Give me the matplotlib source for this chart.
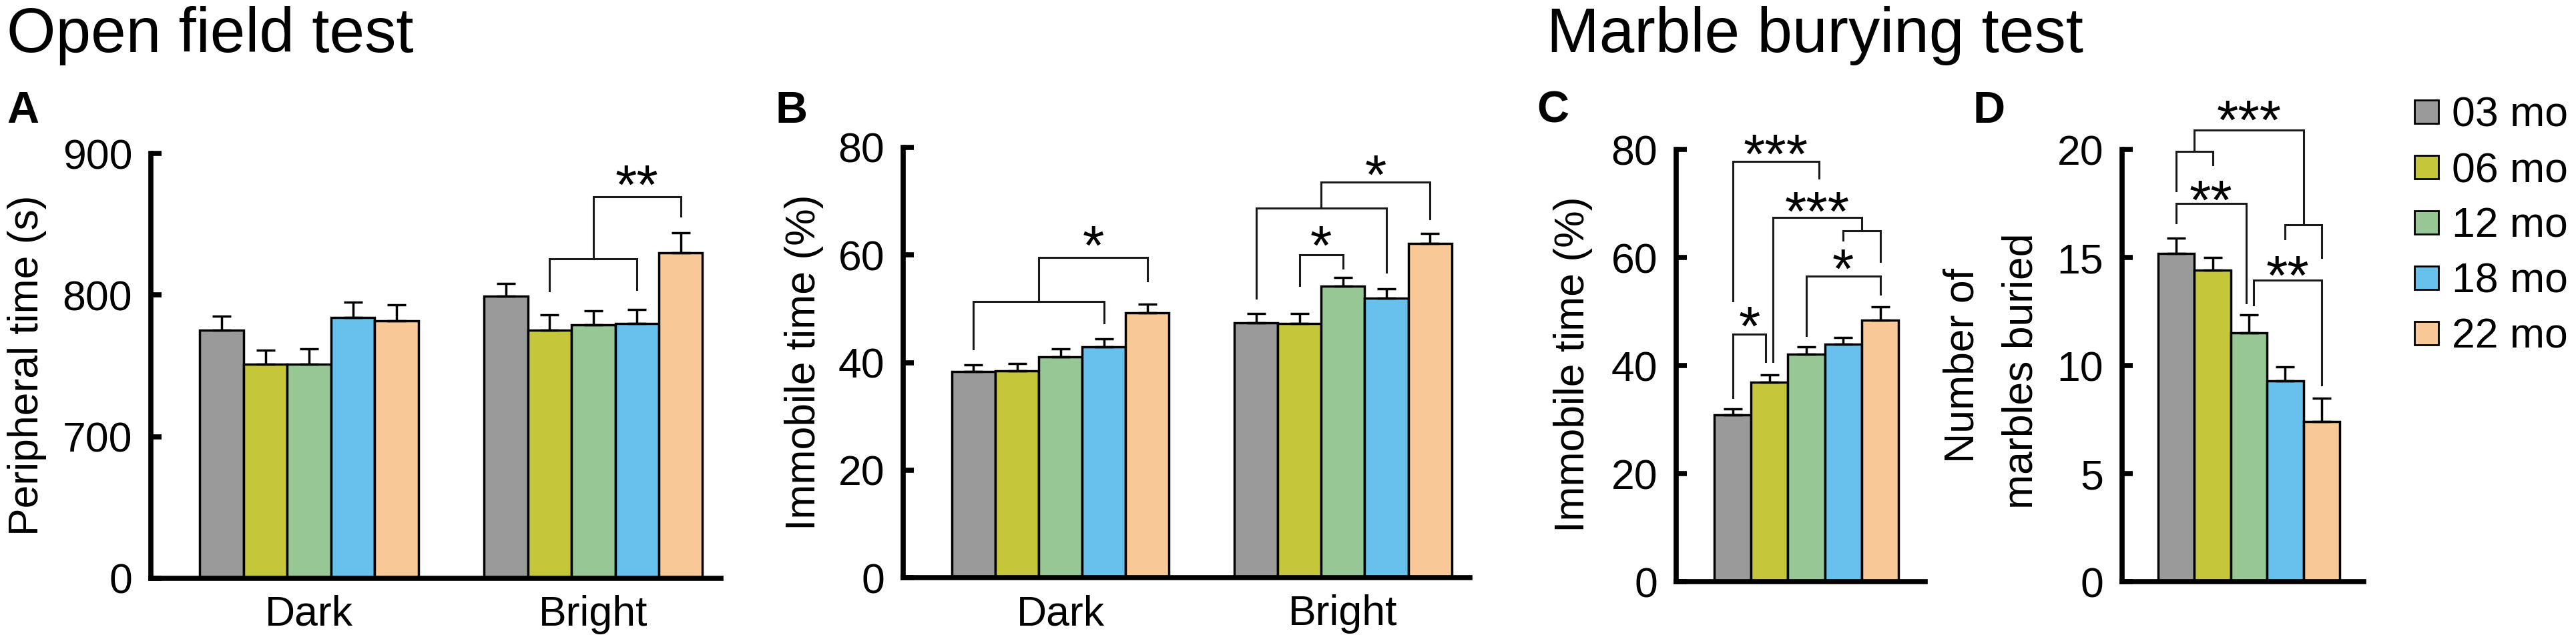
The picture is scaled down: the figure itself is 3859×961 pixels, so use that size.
import numpy as np
import matplotlib
matplotlib.use('Agg')
import matplotlib.pyplot as plt
from matplotlib.patches import Rectangle

plt.rcParams['font.family'] = ['Liberation Sans', 'DejaVu Sans']

# data (mean, SEM)
ages = ['03 mo', '06 mo', '12 mo', '18 mo', '22 mo']
colors = ['#9a9a9a', '#c6c63a', '#98c796', '#68c1ec', '#f8c997']
light_groups = ['Dark', 'Bright']

a_dark = [775, 751, 751, 784, 782]
a_dark_sem = [10, 10, 11, 11, 11]
a_bright = [799, 775, 779, 780, 830]
a_bright_sem = [9, 11, 10, 10, 14]

b_dark = [38.3, 38.5, 41.1, 42.9, 49.2]
b_dark_sem = [1.3, 1.3, 1.5, 1.5, 1.7]
b_bright = [47.4, 47.2, 54.2, 52.0, 62.1]
b_bright_sem = [1.7, 1.9, 1.6, 1.7, 1.9]

c_immobile = [30.9, 36.9, 42.1, 43.9, 48.4]
c_immobile_sem = [1.1, 1.4, 1.4, 1.3, 2.5]

d_marbles = [15.2, 14.4, 11.5, 9.3, 7.4]
d_marbles_sem = [0.7, 0.6, 0.85, 0.65, 1.1]

# significance brackets: (x_left, x_right, y_top, y_left_end, y_right_end)
a_brackets = [(7.5, 9.5, 825.8, 802.8, 804), (8.5, 10.5, 869.5, 825.8, 855.5)]
a_stars = [(9.5, 886, '**')]
b_brackets = [(0, 3, 51.3, 42.5, 47.4), (1.5, 4, 59.5, 51.3, 55.2),
              (6.5, 9.5, 68.75, 52, 56.8), (8.0, 10.5, 73.5, 68.75, 66.7),
              (7.5, 8.5, 60, 54.3, 57.5)]
b_stars = [(2.75, 63.9, '*'), (9.25, 77.1, '*'), (8.0, 63.9, '*')]
c_brackets = [(0, 0.9, 45.8, 34.1, 40.7), (0, 2.35, 77.8, 52, 74.7),
              (1.09, 3.5, 67.4, 40.7, 64.9), (3, 4, 64.9, 63.2, 59.3),
              (2, 4, 56.6, 45.6, 53.2)]
c_stars = [(0.45, 49.4, '*'), (1.17, 81.2, '***'), (2.3, 70.6, '***'), (3.0, 60.0, '*')]
d_brackets = [(0, 1, 19.9, 18.1, 19.3), (0.5, 3.5, 20.9, 19.9, 16.5),
              (3, 4, 16.5, 15.85, 15.0), (0, 1.92, 17.5, 16.6, 12.9),
              (2.13, 4, 13.95, 12.8, 9.1)]
d_stars = [(2.0, 21.9, '***'), (0.96, 18.2, '**'), (3.07, 14.7, '**')]

W, H = 3859, 961
FS = 45
STAR_FS = 60

fig = plt.figure(figsize=(W / 100, H / 100), dpi=100)


def px_axes(left, top, right, bottom):
    return fig.add_axes([left / W, 1 - bottom / H, (right - left) / W, (bottom - top) / H])


def style(ax):
    for s in ['top', 'right']:
        ax.spines[s].set_visible(False)
    for s in ['left', 'bottom']:
        ax.spines[s].set_linewidth(5.5)
    ax.tick_params(axis='y', direction='in', length=11.5, width=5.5, pad=20, labelsize=FS)
    ax.tick_params(axis='x', length=0, pad=18, labelsize=FS)


def bars(ax, xs, vals, sem):
    xs = np.asarray(xs, dtype=float)
    ax.bar(xs, vals, width=1.0, color=colors, edgecolor='black', linewidth=2.5, zorder=2)
    ax.errorbar(xs, vals, yerr=[np.zeros(len(sem)), sem], fmt='none', ecolor='black',
                elinewidth=2.5, capsize=10, capthick=2.5, zorder=3)


def brackets(ax, specs, stars):
    for x1, x2, y, e1, e2 in specs:
        ax.plot([x1, x1, x2, x2], [e1, y, y, e2], color='#1a1a1a', lw=2.2,
                clip_on=False, solid_joinstyle='miter', zorder=4)
    for x, y, s in stars:
        ax.annotate(s, xy=(x, y), xytext=(0, -0.55 * STAR_FS), textcoords='offset points',
                    ha='center', va='baseline', fontsize=STAR_FS, annotation_clip=False)


def px_text(x, y, s, **kw):
    fig.text(x / W, 1 - y / H, s, **kw)


grp = np.arange(5)
offset = 6.5

# A: open field, peripheral time (broken scale: 0 / 700 / 800 / 900)
ax = px_axes(226, 230, 1080, 867)
bars(ax, grp, a_dark, a_dark_sem)
bars(ax, grp + offset, a_bright, a_bright_sem)
ax.set_ylim(600, 900)
ax.set_yticks([600, 700, 800, 900], ['0', '700', '800', '900'])
ax.set_xlim(-1.62, 11.42)
ax.set_xticks([2, 2 + offset], light_groups)
style(ax)
brackets(ax, a_brackets, a_stars)

# B: open field, immobile time
ax = px_axes(1353, 221, 2202, 866)
bars(ax, grp, b_dark, b_dark_sem)
bars(ax, grp + offset, b_bright, b_bright_sem)
ax.set_ylim(0, 80)
ax.set_yticks([0, 20, 40, 60, 80])
ax.set_xlim(-1.62, 11.42)
ax.set_xticks([2, 2 + offset], light_groups)
style(ax)
brackets(ax, b_brackets, b_stars)

# C: marble burying, immobile time
ax = px_axes(2511, 224, 2884, 872)
bars(ax, grp, c_immobile, c_immobile_sem)
ax.set_ylim(0, 80)
ax.set_yticks([0, 20, 40, 60, 80])
ax.set_xlim(-1.53, 5.22)
ax.set_xticks([])
style(ax)
brackets(ax, c_brackets, c_stars)

# D: marbles buried
ax = px_axes(3179, 224, 3541, 872)
bars(ax, grp, d_marbles, d_marbles_sem)
ax.set_ylim(0, 20)
ax.set_yticks([0, 5, 10, 15, 20])
ax.set_xlim(-1.49, 5.16)
ax.set_xticks([])
style(ax)
brackets(ax, d_brackets, d_stars)

# titles, panel letters, axis labels
px_text(10, 78, 'Open field test', fontsize=68, va='baseline', ha='left')
px_text(2317, 78, 'Marble burying test', fontsize=68, va='baseline', ha='left')
for x, s in [(10, 'A'), (1161, 'B'), (2302, 'C'), (2955, 'D')]:
    px_text(x, 184, s, fontsize=48, fontweight='bold', va='baseline', ha='left')

px_text(40, 548, 'Peripheral time (s)', fontsize=FS, rotation=90, ha='center', va='center')
px_text(1205, 543, 'Immobile time (%)', fontsize=FS, rotation=90, ha='center', va='center')
px_text(2357, 546, 'Immobile time (%)', fontsize=FS, rotation=90, ha='center', va='center')
px_text(2940, 548, 'Number of', fontsize=FS, rotation=90, ha='center', va='center')
px_text(3028, 556, 'marbles buried', fontsize=FS, rotation=90, ha='center', va='center')

# legend
for i, (lab, c) in enumerate(zip(ages, colors)):
    yc = 167.5 + 83 * i
    fig.add_artist(Rectangle((3617 / W, 1 - (yc + 17.5) / H), 36 / W, 35 / H,
                             facecolor=c, edgecolor='black', linewidth=2,
                             transform=fig.transFigure))
    px_text(3673, yc + 22.5, lab, fontsize=FS, va='baseline', ha='left')

fig.savefig('out.png', dpi=100, facecolor='white')
